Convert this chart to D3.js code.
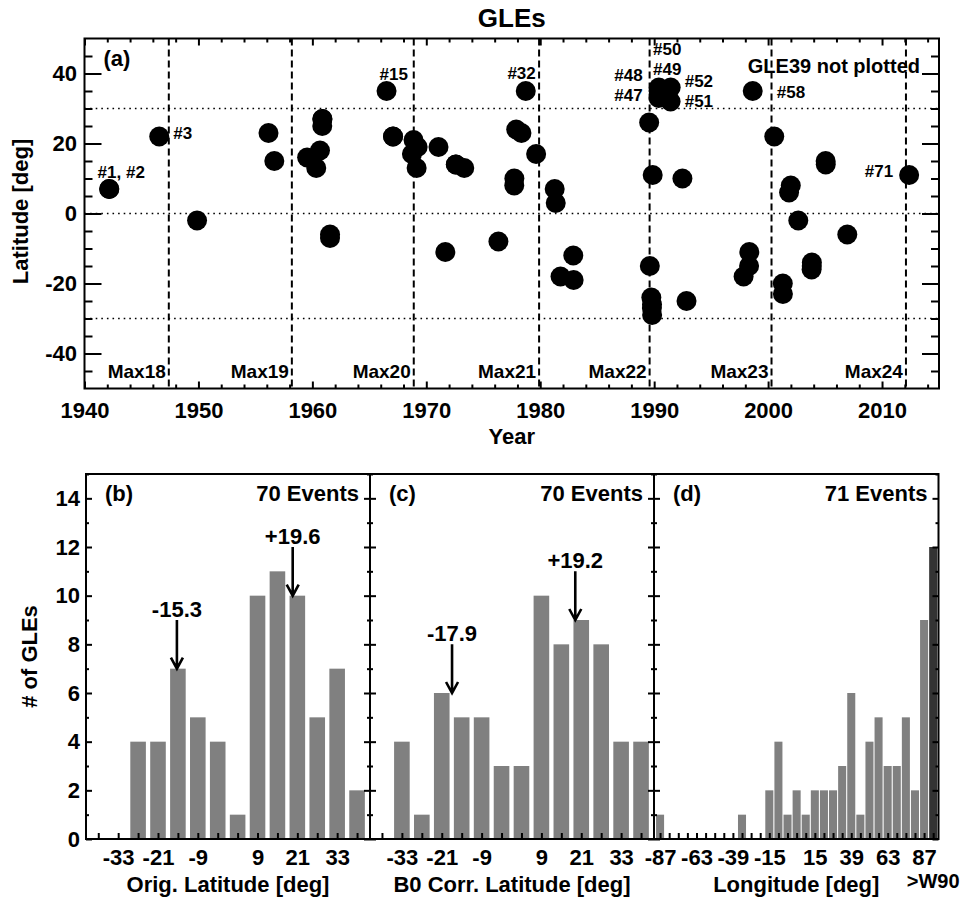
<!DOCTYPE html>
<html>
<head>
<meta charset="utf-8">
<script src="https://cdn.jsdelivr.net/npm/d3@7"></script>
<style>
body { margin: 0; background: #fff; }
svg text { font-family: "Liberation Sans", Arial, sans-serif; font-weight: bold; fill: #000; }
</style>
</head>
<body>
<svg width="965" height="901"></svg>
<script>
// GLE source positions (GLE39 is not plotted)
var gleIds = [1, 2, 3, 4, 5, 6, 7, 8, 9, 10, 11, 12, 13, 14, 15, 16, 17, 18, 19, 20,
    21, 22, 23, 24, 25, 26, 27, 28, 29, 30, 31, 32, 33, 34, 35, 36, 37, 38,
    40, 41, 42, 43, 44, 45, 46, 47, 48, 49, 50, 51, 52, 53, 54, 55, 56, 57, 58, 59,
    60, 61, 62, 63, 64, 65, 66, 67, 68, 69, 70, 71]
var gleYears = [1942.16, 1942.18, 1946.56, 1949.88, 1956.15, 1956.66, 1959.54, 1960.34, 1960.67, 1960.87,
    1960.87, 1960.89, 1961.55, 1961.55, 1966.51, 1967.08, 1967.08, 1968.74, 1968.88, 1969.15,
    1969.24, 1971.07, 1971.67, 1972.59, 1972.60, 1973.33, 1976.33, 1977.72, 1977.73, 1977.89,
    1978.35, 1978.73, 1979.64, 1981.27, 1981.36, 1981.78, 1982.90, 1982.93,
    1989.56, 1989.62, 1989.75, 1989.80, 1989.81, 1989.82, 1989.87, 1990.39, 1990.39, 1990.40,
    1990.41, 1991.44, 1991.45, 1992.48, 1992.84, 1997.85, 1998.33, 1998.35, 1998.65, 2000.54,
    2001.29, 2001.30, 2001.84, 2001.99, 2002.65, 2003.82, 2003.83, 2003.84, 2005.05, 2005.06,
    2006.95, 2012.38]
var gleLats = [7, 7, 22, -2, 23, 15, 16, 13, 18, 27,
    25, 27, -7, -6, 35, 22, 22, 17, 21, 13,
    19, 19, -11, 14, 14, 13, -8, 8, 10, 24,
    23, 35, 17, 7, 3, -18, -12, -19,
    26, -15, -24, -27, -26, -29, 11, 35, 33, 35,
    36, 32, 36, 10, -25, -18, -15, -11, 35, 22,
    -20, -23, 6, 8, -2, -16, -15, -14, 15, 14,
    -6, 11]

var maxYears = [1947.4, 1958.2, 1968.9, 1979.9, 1989.6, 2000.3, 2012.1]
var maxLabels = ["Max18", "Max19", "Max20", "Max21", "Max22", "Max23", "Max24"]

var yearTicks = [1940, 1950, 1960, 1970, 1980, 1990, 2000, 2010]
var latTicks = [-40, -20, 0, 20, 40]
var latRefLines = [-30, 0, 30]

// histograms
var latBins = [-39, -33, -27, -21, -15, -9, -3, 3, 9, 15, 21, 27, 33, 39]
var origCounts = [0, 0, 4, 4, 7, 5, 4, 1, 10, 11, 10, 5, 7, 2]
var b0Counts = [0, 4, 1, 6, 5, 5, 3, 3, 10, 8, 9, 8, 4, 4]
var latTickLabels = [-33, -21, -9, 9, 21, 33]

var origPeaks = [-15.3, 19.6]
var origPeakCounts = [7, 10]
var b0Peaks = [-17.9, 19.2]
var b0PeakCounts = [6, 9]

var lonBins = [-87, -81, -75, -69, -63, -57, -51, -45, -39, -33, -27, -21, -15, -9, -3,
    3, 9, 15, 21, 27, 33, 39, 45, 51, 57, 63, 69, 75, 81, 87, 93]
var lonCounts = [1, 0, 0, 0, 0, 0, 0, 0, 0, 1, 0, 0, 2, 4, 1,
    2, 1, 2, 2, 2, 3, 6, 1, 4, 5, 3, 3, 5, 2, 9, 12]
var lonTickLabels = [-87, -63, -39, -15, 15, 39, 63, 87]

var countTicks = [0, 2, 4, 6, 8, 10, 12, 14]
var countMinor = [1, 3, 5, 7, 9, 11, 13, 15]

var svg = d3.select("svg")
var font = "Liberation Sans, Arial, sans-serif"

function axisG(axis, tr, size) {
    var g = svg.append("g").attr("transform", tr).call(axis)
    g.select(".domain").remove()
    g.attr("font-size", size || 22).attr("font-family", font).attr("font-weight", "bold")
    g.selectAll("line").attr("stroke", "#000").attr("stroke-width", 2)
    g.selectAll("text").attr("fill", "#000")
    return g
}

function label(x, y, txt, size, anchor) {
    return svg.append("text")
        .attr("x", x).attr("y", y)
        .attr("font-size", size)
        .attr("text-anchor", anchor || "start")
        .text(txt)
}

// ---------- panel (a) ----------
var aL = 84.5, aR = 939, aT = 38.5, aB = 388.5

var xYear = d3.scaleLinear().domain([1940, 2015]).range([aL, aR])
var yLat = d3.scaleLinear().domain([-50, 50]).range([aB, aT])

svg.selectAll(".ref")
    .data(latRefLines)
    .enter()
    .append("line")
    .attr("x1", aL).attr("x2", aR)
    .attr("y1", d => yLat(d)).attr("y2", d => yLat(d))
    .attr("stroke", "#000")
    .attr("stroke-width", 1.6)
    .attr("stroke-dasharray", "1.6,4")

svg.selectAll(".maxline")
    .data(maxYears)
    .enter()
    .append("line")
    .attr("x1", d => xYear(d)).attr("x2", d => xYear(d))
    .attr("y1", aT).attr("y2", aB)
    .attr("stroke", "#000")
    .attr("stroke-width", 2)
    .attr("stroke-dasharray", "7,4")

svg.selectAll(".maxlab")
    .data(maxYears)
    .enter()
    .append("text")
    .attr("x", d => xYear(d) - 3)
    .attr("y", 378)
    .attr("font-size", 19)
    .attr("text-anchor", "end")
    .text((d, i) => maxLabels[i])

var minorYears = d3.range(1942, 2015, 2).filter(d => d % 10 !== 0)
var minorLats = d3.range(-45, 50, 5).filter(d => d % 20 !== 0)

axisG(d3.axisBottom(xYear).tickValues(yearTicks).tickSize(-7).tickPadding(14).tickFormat(d => String(d)),
    `translate(0,${aB})`)
axisG(d3.axisBottom(xYear).tickValues(minorYears).tickSize(-4).tickFormat(""), `translate(0,${aB})`)
axisG(d3.axisTop(xYear).tickValues(yearTicks).tickSize(-7).tickFormat(""), `translate(0,${aT})`)
axisG(d3.axisTop(xYear).tickValues(minorYears).tickSize(-4).tickFormat(""), `translate(0,${aT})`)
axisG(d3.axisLeft(yLat).tickValues(latTicks).tickSize(-17).tickPadding(7.5).tickFormat(d => String(d)),
    `translate(${aL},0)`)
axisG(d3.axisLeft(yLat).tickValues(minorLats).tickSize(-8).tickFormat(""), `translate(${aL},0)`)
axisG(d3.axisRight(yLat).tickValues(latTicks).tickSize(-17).tickFormat(""), `translate(${aR},0)`)
axisG(d3.axisRight(yLat).tickValues(minorLats).tickSize(-8).tickFormat(""), `translate(${aR},0)`)

svg.append("rect")
    .attr("x", aL).attr("y", aT)
    .attr("width", aR - aL).attr("height", aB - aT)
    .attr("fill", "none").attr("stroke", "#000").attr("stroke-width", 2)

svg.selectAll(".gle")
    .data(gleYears)
    .enter()
    .append("circle")
    .attr("cx", d => xYear(d))
    .attr("cy", (d, i) => yLat(gleLats[i]))
    .attr("r", 10)
    .attr("fill", "#000")

// event labels, placed next to their GLE
var noteText = ["#1, #2", "#3", "#15", "#32", "#48", "#47", "#50", "#49", "#52", "#51", "#58", "#71"]
var noteGle = [1, 3, 15, 32, 47, 47, 47, 47, 52, 52, 58, 71]
var noteDx = [-11.5, 14, -7, 10, -16, -16, -5.5, -5.5, 14, 14, 24, -16]
var noteDy = [-11, 2, -11, -12, -10, 9.5, -36, -16.5, -0.5, 19, 7, 2]
var noteAnchor = ["start", "start", "start", "end", "end", "end", "start", "start", "start", "start", "start", "end"]

noteText.forEach(function (t, i) {
    var k = gleIds.indexOf(noteGle[i])
    label(xYear(gleYears[k]) + noteDx[i], yLat(gleLats[k]) + noteDy[i], t, 17, noteAnchor[i])
})

label(aR - 19, 73, "GLE39 not plotted", 20, "end")
label(aL + 19, 66, "(a)", 22)
label((aL + aR) / 2, 27, "GLEs", 26, "middle")
label((aL + aR) / 2, 444, "Year", 22, "middle")
svg.append("text")
    .attr("transform", `translate(28,${(aT + aB) / 2 - 2}) rotate(-90)`)
    .attr("font-size", 22)
    .attr("text-anchor", "middle")
    .text("Latitude [deg]")

// ---------- histograms (b), (c), (d) ----------
var hT = 474, hB = 839
var yCount = d3.scaleLinear().domain([0, 15]).range([hB, hT])

var panels = [
    {x0: 86, x1: 370, domain: [-42.7, 42.9], bins: latBins, counts: origCounts, bw: 4.7,
        labels: latTickLabels, title: "Orig. Latitude [deg]", tag: "(b)", events: "70 Events",
        peaks: origPeaks, peakCounts: origPeakCounts},
    {x0: 370, x1: 654, domain: [-42.6, 42.9], bins: latBins, counts: b0Counts, bw: 4.7,
        labels: latTickLabels, title: "B0 Corr. Latitude [deg]", tag: "(c)", events: "70 Events",
        peaks: b0Peaks, peakCounts: b0PeakCounts},
    {x0: 654, x1: 938.5, domain: [-91, 96.5], bins: lonBins, counts: lonCounts, bw: 5.3,
        labels: lonTickLabels, title: "Longitude [deg]", tag: "(d)", events: "71 Events",
        peaks: [], peakCounts: []}
]

panels.forEach(function (p, pi) {
    var x = d3.scaleLinear().domain(p.domain).range([p.x0, p.x1])
    var last = p.bins.length - 1

    svg.append("g")
        .selectAll("rect")
        .data(p.bins)
        .enter()
        .append("rect")
        .attr("x", d => x(d - p.bw / 2))
        .attr("width", d => x(d + p.bw / 2) - x(d - p.bw / 2))
        .attr("y", (d, i) => yCount(p.counts[i]))
        .attr("height", (d, i) => hB - yCount(p.counts[i]))
        .attr("fill", (d, i) => (pi === 2 && i === last) ? "#333" : "#808080")

    axisG(d3.axisBottom(x).tickValues(p.bins).tickSize(-6).tickPadding(10.4)
        .tickFormat(d => p.labels.indexOf(d) >= 0 ? String(d) : ""), `translate(0,${hB})`)
    axisG(d3.axisLeft(yCount).tickValues(countTicks).tickSize(-6).tickPadding(6)
        .tickFormat(d => pi === 0 ? String(d) : ""), `translate(${p.x0},0)`)
    axisG(d3.axisLeft(yCount).tickValues(countMinor).tickSize(-3).tickFormat(""), `translate(${p.x0},0)`)
    axisG(d3.axisRight(yCount).tickValues(countTicks).tickSize(-6).tickFormat(""), `translate(${p.x1},0)`)
    axisG(d3.axisRight(yCount).tickValues(countMinor).tickSize(-3).tickFormat(""), `translate(${p.x1},0)`)

    svg.append("rect")
        .attr("x", p.x0).attr("y", hT)
        .attr("width", p.x1 - p.x0).attr("height", hB - hT)
        .attr("fill", "none").attr("stroke", "#000").attr("stroke-width", 2)

    p.peaks.forEach(function (v, i) {
        var px = x(v)
        var tip = yCount(p.peakCounts[i])
        var tail = yCount(p.peakCounts[i] + 2)
        svg.append("path")
            .attr("d", `M${px},${tail}V${tip}M${px - 6},${tip - 11}L${px},${tip}L${px + 6},${tip - 11}`)
            .attr("fill", "none")
            .attr("stroke", "#000")
            .attr("stroke-width", 2.6)
        label(px, tail - 3, (v > 0 ? "+" : "") + v.toFixed(1), 22, "middle")
    })

    label(p.x0 + 19, 501, p.tag, 22)
    label(p.x1 - 11, 501, p.events, 22, "end")
    label((p.x0 + p.x1) / 2, 892, p.title, 22, "middle")

    if (pi === 2) {
        label(x(lonBins[last]), 888, ">W90", 20, "middle")
    }
})

svg.append("text")
    .attr("transform", `translate(37,${(hT + hB) / 2}) rotate(-90)`)
    .attr("font-size", 22)
    .attr("text-anchor", "middle")
    .text("# of GLEs")
</script>
</body>
</html>
